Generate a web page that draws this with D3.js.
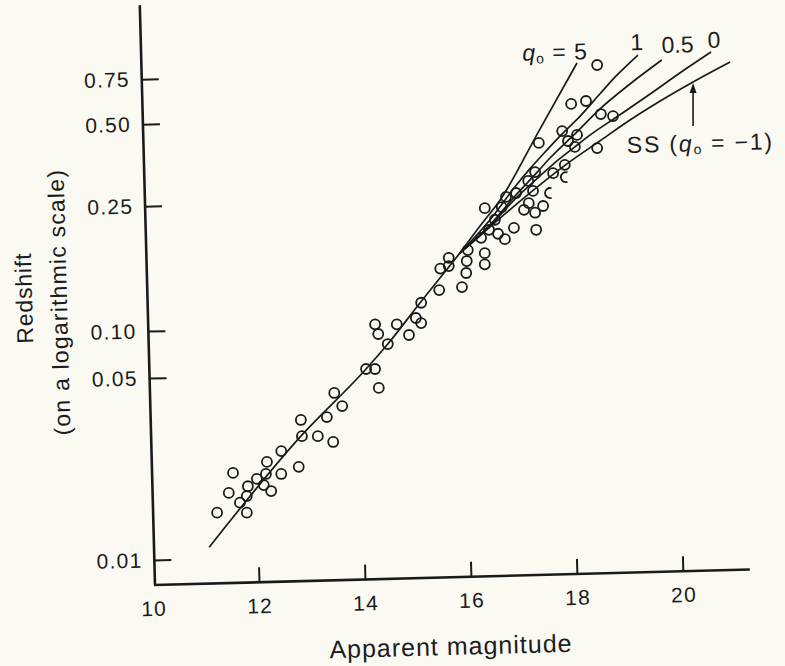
<!DOCTYPE html>
<html>
<head>
<meta charset="utf-8">
<script src="https://cdn.jsdelivr.net/npm/d3@7"></script>
<style>
  body { margin: 0; background: #fbfaf2; }
  svg { display: block; }
  text { font-family: "Liberation Sans", Arial, Helvetica, sans-serif; fill: #1c1c1c; }
</style>
</head>
<body>
<div id="chart"></div>
<script>
// Galaxies: apparent magnitude vs redshift
const magnitudes = [11.21, 11.43, 11.51, 11.64, 11.77, 11.77, 11.79, 11.96, 12.09, 12.13,
  12.15, 12.23, 12.42, 12.42, 12.75, 12.81, 12.79, 13.11, 13.40, 13.28,
  13.57, 13.42, 14.02, 14.19, 14.26, 14.19, 14.25, 14.43, 14.60, 14.83,
  14.96, 15.06, 15.06, 15.40, 15.83, 15.42, 15.58, 15.58, 15.91, 15.92,
  15.94, 16.26, 16.26, 16.19, 16.34, 16.51, 16.64, 16.45, 16.81, 17.23,
  16.26, 16.58, 16.66, 16.85, 17.00, 17.09, 17.21, 17.36, 17.08, 17.21,
  17.17, 17.55, 17.77, 18.38, 17.89, 18.17, 17.28, 17.72, 18.00, 17.83,
  17.96, 18.45, 18.68, 18.38];
const redshifts = [0.0152, 0.0181, 0.0216, 0.0166, 0.0152, 0.0176, 0.0192, 0.0205, 0.0194, 0.0214,
  0.0238, 0.0184, 0.0214, 0.0262, 0.0228, 0.0299, 0.0345, 0.0299, 0.0284, 0.0354,
  0.0390, 0.0438, 0.0571, 0.0571, 0.0458, 0.105, 0.0957, 0.0825, 0.105, 0.0943,
  0.110, 0.106, 0.123, 0.135, 0.138, 0.158, 0.161, 0.171, 0.153, 0.167,
  0.181, 0.177, 0.163, 0.198, 0.210, 0.204, 0.196, 0.226, 0.213, 0.210,
  0.246, 0.248, 0.270, 0.279, 0.243, 0.256, 0.238, 0.250, 0.309, 0.333,
  0.284, 0.330, 0.354, 0.851, 0.599, 0.615, 0.426, 0.471, 0.456, 0.433,
  0.412, 0.547, 0.537, 0.408];

// two circles half hidden behind the curves
const hiddenMagnitudes = [17.49, 17.79];
const hiddenRedshifts = [0.279, 0.319];

// shared part of all model curves
const trunkMag = [11.06, 12.79, 14.02, 14.43, 15.04, 15.79];
const trunkZ = [0.0112, 0.0299, 0.0571, 0.0825, 0.123, 0.177];

// branches for each deceleration parameter
const q5Mag = [15.79, 16.17, 16.55, 17.28, 18.00];
const q5Z = [0.177, 0.216, 0.263, 0.471, 0.866];
const q1Mag = [15.79, 16.36, 16.83, 17.11, 17.40, 17.72, 18.06, 18.43, 18.72, 19.15];
const q1Z = [0.177, 0.226, 0.294, 0.342, 0.395, 0.460, 0.537, 0.655, 0.764, 0.931];
const qHalfMag = [15.79, 16.36, 16.83, 17.25, 17.49, 17.96, 18.43, 19.00, 19.60];
const qHalfZ = [0.177, 0.218, 0.272, 0.333, 0.375, 0.460, 0.572, 0.717, 0.890];
const q0Mag = [15.79, 16.36, 16.83, 17.30, 17.58, 17.96, 18.25, 18.72, 19.38, 19.94, 20.53];
const q0Z = [0.177, 0.216, 0.265, 0.322, 0.360, 0.412, 0.456, 0.528, 0.655, 0.792, 0.957];
const ssMag = [15.79, 16.17, 16.68, 17.30, 17.81, 18.43, 19.00, 19.57, 20.19, 20.89];
const ssZ = [0.177, 0.201, 0.239, 0.299, 0.357, 0.433, 0.518, 0.615, 0.730, 0.874];

const xTicks = [10, 12, 14, 16, 18, 20];
const yTicks = [0.01, 0.05, 0.10, 0.25, 0.50, 0.75];
const yTickLabels = ["0.01", "0.05", "0.10", "0.25", "0.50", "0.75"];

const width = 785, height = 666;
const ox = 155, oy = 585;          // corner of the axes
const tilt = -1.5;                 // the printed page is slightly rotated
const ink = "#1a1a1a";

const svg = d3.select("#chart")
  .append("svg")
  .attr("width", width)
  .attr("height", height);

svg.append("rect").attr("width", width).attr("height", height).attr("fill", "#fbfaf2");

const x = d3.scaleLinear().domain([10, 20]).range([153, 683]);
// the printed log axis is not evenly spaced, so go piecewise through its ticks
const y = d3.scaleLog().domain(yTicks).range([560, 378, 331, 206, 124, 79]);

// axes
const axes = svg.append("g").attr("transform", `rotate(${tilt},${ox},${oy})`);

const yAxis = axes.append("g")
  .attr("transform", `translate(${ox},0)`)
  .call(d3.axisLeft(y)
    .tickValues(yTicks)
    .tickFormat((d, i) => yTickLabels[i])
    .tickSizeInner(-17)
    .tickSizeOuter(0)
    .tickPadding(12));

const xAxis = axes.append("g")
  .attr("transform", `translate(0,${oy})`)
  .call(d3.axisBottom(x)
    .tickValues(xTicks)
    .tickSizeInner(-15)
    .tickSizeOuter(0)
    .tickPadding(16));

[xAxis, yAxis].forEach(g => {
  g.select(".domain").remove();
  g.selectAll(".tick line").attr("stroke", ink).attr("stroke-width", 2);
  g.selectAll(".tick text")
    .attr("fill", ink)
    .style("font-size", "21px")
    .style("letter-spacing", "1.2px")
    .style("font-family", '"Liberation Sans", Arial, sans-serif');
});
// no tick mark at the corner
xAxis.selectAll(".tick").filter(d => d === 10).select("line").remove();

axes.append("line")
  .attr("x1", ox).attr("y1", 5).attr("x2", ox).attr("y2", oy)
  .attr("stroke", ink).attr("stroke-width", 2.6);
axes.append("line")
  .attr("x1", ox - 1).attr("y1", oy).attr("x2", 750).attr("y2", oy)
  .attr("stroke", ink).attr("stroke-width", 2.6);

// model curves
const line = d3.line()
  .x(d => x(d[0]))
  .y(d => y(d[1]))
  .curve(d3.curveMonotoneX);

const curves = [
  d3.zip(trunkMag, trunkZ),
  d3.zip(q5Mag, q5Z),
  d3.zip(q1Mag, q1Z),
  d3.zip(qHalfMag, qHalfZ),
  d3.zip(q0Mag, q0Z),
  d3.zip(ssMag, ssZ)
];

svg.append("g")
  .selectAll("path")
  .data(curves)
  .enter()
  .append("path")
  .attr("d", line)
  .attr("fill", "none")
  .attr("stroke", ink)
  .attr("stroke-width", 1.7);

// galaxies
svg.append("g")
  .selectAll("circle")
  .data(d3.zip(magnitudes, redshifts))
  .enter()
  .append("circle")
  .attr("cx", d => x(d[0]))
  .attr("cy", d => y(d[1]))
  .attr("r", 5)
  .attr("fill", "none")
  .attr("stroke", ink)
  .attr("stroke-width", 1.8);

const halfArc = d3.arc()
  .innerRadius(5).outerRadius(5)
  .startAngle(Math.PI * 0.9).endAngle(Math.PI * 2.1);

svg.append("g")
  .selectAll("path")
  .data(d3.zip(hiddenMagnitudes, hiddenRedshifts))
  .enter()
  .append("path")
  .attr("transform", d => `translate(${x(d[0])},${y(d[1])})`)
  .attr("d", halfArc)
  .attr("fill", "none")
  .attr("stroke", ink)
  .attr("stroke-width", 1.8);

// curve labels, placed from the end of each branch
function qLabel(text, px, py, anchor, value) {
  const t = svg.append("text")
    .attr("x", px).attr("y", py)
    .attr("text-anchor", anchor)
    .attr("transform", `rotate(${tilt},${px},${py})`)
    .style("font-size", "23px");
  if (value !== undefined) {
    t.style("letter-spacing", "1px");
    t.append("tspan").attr("font-style", "italic").text("q");
    t.append("tspan").attr("font-size", "14px").attr("dy", 3).text("o");
    t.append("tspan").attr("dy", -3).text(` = ${value}`);
  } else {
    t.text(text);
  }
  return t;
}

const end = (m, z) => [x(m[m.length - 1]), y(z[z.length - 1])];

let p = end(q5Mag, q5Z);
qLabel(null, p[0] + 11, p[1] - 4, "end", "5");
p = end(q1Mag, q1Z);
qLabel("1", p[0] - 1, p[1] - 5, "middle");
p = end(qHalfMag, qHalfZ);
qLabel("0.5", p[0], p[1] - 7, "start");
p = end(q0Mag, q0Z);
qLabel("0", p[0] + 3, p[1] - 4, "middle");

// arrow pointing at the steady state curve
const ax = x(ssMag[8]), ay = y(ssZ[8]);
svg.append("line")
  .attr("x1", ax).attr("y1", ay + 8).attr("x2", ax).attr("y2", ay + 44)
  .attr("stroke", ink).attr("stroke-width", 1.6);
svg.append("path")
  .attr("d", `M${ax},${ay + 1}L${ax - 3.5},${ay + 11}L${ax + 3.5},${ay + 11}Z`)
  .attr("fill", ink);

const ss = svg.append("text")
  .attr("x", ax - 66).attr("y", ay + 71)
  .attr("transform", `rotate(${tilt},${ax - 66},${ay + 71})`)
  .style("font-size", "23px")
  .style("letter-spacing", "1.8px");
ss.append("tspan").text("SS (");
ss.append("tspan").attr("font-style", "italic").text("q");
ss.append("tspan").attr("font-size", "14px").attr("dy", 3).text("o");
ss.append("tspan").attr("dy", -3).text(" = \u22121)");

// axis titles
svg.append("text")
  .attr("x", 451).attr("y", 655)
  .attr("text-anchor", "middle")
  .attr("transform", `rotate(${tilt},451,648)`)
  .style("font-size", "25px")
  .style("letter-spacing", "1px")
  .text("Apparent magnitude");

svg.append("text")
  .attr("transform", `translate(32,298) rotate(${-90 + tilt})`)
  .attr("text-anchor", "middle")
  .style("font-size", "23px")
  .style("letter-spacing", "0.8px")
  .text("Redshift");

svg.append("text")
  .attr("transform", `translate(67,302) rotate(${-90 + tilt})`)
  .attr("text-anchor", "middle")
  .style("font-size", "23px")
  .style("letter-spacing", "1.2px")
  .text("(on a logarithmic scale)");
</script>
</body>
</html>
